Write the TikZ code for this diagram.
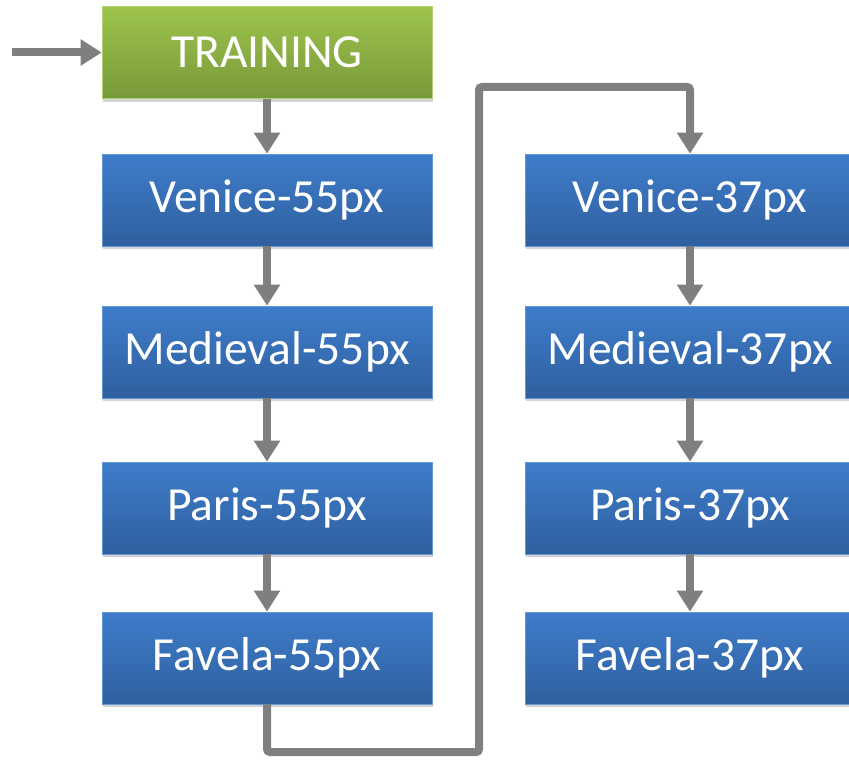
\documentclass[tikz,border=0pt]{standalone}
\usepackage{fontspec}
\setmainfont{Carlito}
\usetikzlibrary{arrows.meta,shadows}
\definecolor{gtop}{HTML}{9DC44C}
\definecolor{gbot}{HTML}{78993A}
\definecolor{btop}{HTML}{3E7DCA}
\definecolor{bbot}{HTML}{2F5F9F}
\definecolor{arr}{HTML}{7F7F7F}
\tikzset{
  box/.style={minimum width=330pt, minimum height=92pt, inner sep=0pt,
    text=white, font=\fontsize{47.5}{54}\selectfont,
    drop shadow={opacity=0.35, shadow xshift=1pt, shadow yshift=-3pt}},
  bluebox/.style={box, top color=btop, bottom color=bbot, draw=btop!80!white, line width=0.6pt},
  greenbox/.style={box, top color=gtop, bottom color=gbot, draw=gtop!80!white, line width=0.6pt},
  conn/.style={draw=arr, line width=8pt, -{Triangle[width=25pt,length=21pt]}, rounded corners=3pt}
}
\begin{document}
\begin{tikzpicture}[x=1pt,y=-1pt]
\useasboundingbox (0,0) rectangle (849,760);
\clip (0,0) rectangle (849,760);
\node[greenbox] (train) at (267,52.5) {TRAINING};
\node[bluebox] (v55) at (267,200) {Venice-55px};
\node[bluebox] (m55) at (267,352) {Medieval-55px};
\node[bluebox] (p55) at (267,508) {Paris-55px};
\node[bluebox] (f55) at (267,658) {Favela-55px};
\node[bluebox] (v37) at (690,200) {Venice-37px};
\node[bluebox] (m37) at (690,352) {Medieval-37px};
\node[bluebox] (p37) at (690,508) {Paris-37px};
\node[bluebox] (f37) at (690,658) {Favela-37px};
\coordinate (in) at (12,52.5);
\draw[conn] (in) -- (train.west);
\draw[conn] (train) -- (v55);
\draw[conn] (v55) -- (m55);
\draw[conn] (m55) -- (p55);
\draw[conn] (p55) -- (f55);
\draw[conn] (v37) -- (m37);
\draw[conn] (m37) -- (p37);
\draw[conn] (p37) -- (f37);
\draw[conn] (f55.south) -- (267,752) -- (479,752) -- (479,87) -- (690,87) -- (v37.north);
\end{tikzpicture}
\end{document}
